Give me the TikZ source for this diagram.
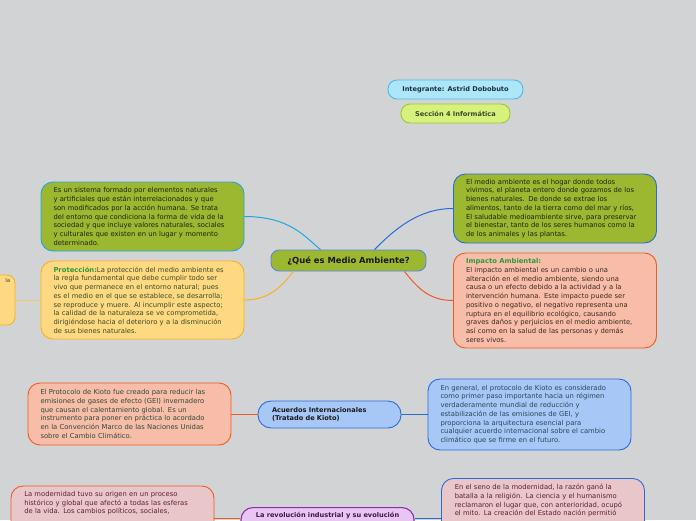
\documentclass[tikz,border=0pt]{standalone}
\usepackage{fontspec}
\setmainfont{DejaVu Sans}
\usetikzlibrary{calc}
\definecolor{bg}{HTML}{D2D3D5}
\definecolor{olivef}{HTML}{9CB730}
\definecolor{yellowf}{HTML}{FFD982}
\definecolor{salmonf}{HTML}{F8BDA8}
\definecolor{bluef}{HTML}{A7C8F6}
\definecolor{pinkf}{HTML}{E9C6CA}
\definecolor{lilacf}{HTML}{E9C5F4}
\definecolor{cyanf}{HTML}{AEE6F9}
\definecolor{limef}{HTML}{D8F07C}
\definecolor{cyanl}{HTML}{1EA7E1}
\definecolor{bluel}{HTML}{2A6CD6}
\definecolor{yellowl}{HTML}{F5B21E}
\definecolor{redl}{HTML}{F05A22}
\definecolor{purplel}{HTML}{8A2FA8}
\definecolor{limel}{HTML}{9CC834}
\definecolor{greent}{HTML}{2E9A3A}
\definecolor{t4}{HTML}{1E2418}
\definecolor{t5}{HTML}{3A4A26}
\definecolor{t8}{HTML}{3A2A22}
\definecolor{t9}{HTML}{2E4A3A}
\definecolor{t11}{HTML}{2A4658}
\definecolor{t12}{HTML}{5E1F3A}
\definecolor{t13}{HTML}{3A1848}
\definecolor{th}{HTML}{1C3040}
\begin{document}
\begin{tikzpicture}[x=1pt,y=1pt,
  box/.style={draw, line width=0.9pt, rounded corners=12pt, inner xsep=12.5pt, inner ysep=0pt,
    text width=178pt, align=left, font=\fontsize{6.8}{8.7}\selectfont},
  txt/.style={anchor=north west, inner sep=0pt, text width=178pt, align=left, font=\fontsize{6.8}{8.7}\selectfont},
  pill/.style={draw, line width=0.9pt, inner sep=0pt, align=left, font=\bfseries\fontsize{6.6}{8.7}\selectfont},
  conn/.style={line width=1pt},
]
\useasboundingbox[fill=bg] (0,0) rectangle (696,-520);

% header pills
\node[pill, fill=cyanf, draw=cyanl!80, rounded corners=9pt, minimum width=135pt, minimum height=19pt, text=th] (int) at (455.5,-89.5) {Integrante: Astrid Dobobuto};
\node[pill, fill=limef, draw=limel, rounded corners=9pt, minimum width=109pt, minimum height=19pt, text=t5] (sec) at (455.5,-113.5) {Sección 4 Informática};

% central
\node[draw=bluel!80, fill=olivef, line width=0.9pt, rounded corners=8pt, minimum width=155pt, minimum height=21pt, inner sep=0pt,
  font=\bfseries\fontsize{8.4}{10}\selectfont, text=black!90] (c) at (348.5,-260.5) {¿Qué es Medio Ambiente?};

% left top
\node[box, fill=olivef, draw=cyanl, minimum height=69pt, text=t4] (n4) at (142.5,-216.5) {Es un sistema formado por elementos naturales\\
y artificiales que están interrelacionados y que\\
son modificados por la acción humana. Se trata\\
del entorno que condiciona la forma de vida de la\\
sociedad y que incluye valores naturales, sociales\\
y culturales que existen en un lugar y momento\\
determinado.};

% proteccion
\node[box, fill=yellowf, draw=yellowl, minimum height=78pt, text=t5] (n5) at (142.5,-300) {\textbf{\color{greent}Protección:}La protección del medio ambiente es\\
la regla fundamental que debe cumplir todo ser\\
vivo que permanece en el entorno natural; pues\\
es el medio en el que se establece, se desarrolla;\\
se reproduce y muere. Al incumplir este aspecto;\\
la calidad de la naturaleza se ve comprometida,\\
dirigiéndose hacia el deterioro y a la disminución\\
de sus bienes naturales.};

% left partial
\node[draw=yellowl, fill=yellowf, line width=0.9pt, rounded corners=8pt, minimum width=120pt, minimum height=50pt, inner sep=0pt] (n6) at (-45,-300) {};
\node[anchor=north east, inner sep=0pt, font=\fontsize{5.5}{7}\selectfont, text=t5] (n6t) at ($(n6.north east)+(-5,-4)$) {la};

% right top
\node[box, fill=olivef, draw=bluel, minimum height=69pt, text=t4] (n7) at (555,-208.5) {El medio ambiente es el hogar donde todos\\
vivimos, el planeta entero donde gozamos de los\\
bienes naturales. De donde se extrae los\\
alimentos, tanto de la tierra como del mar y ríos,\\
El saludable medioambiente sirve, para preservar\\
el bienestar, tanto de los seres humanos como la\\
de los animales y las plantas.};

% impacto
\node[box, fill=salmonf, draw=redl, minimum height=95pt, text=t8] (n8) at (555,-300.5) {\textbf{\color{greent}Impacto Ambiental:}\\
El impacto ambiental es un cambio o una\\
alteración en el medio ambiente, siendo una\\
causa o un efecto debido a la actividad y a la\\
intervención humana. Este impacto puede ser\\
positivo o negativo, el negativo representa una\\
ruptura en el equilibrio ecológico, causando\\
graves daños y perjuicios en el medio ambiente,\\
así como en la salud de las personas y demás\\
seres vivos.};

% kioto
\node[box, fill=salmonf, draw=redl, minimum height=62pt, text=t9] (n9) at (129.5,-414) {El Protocolo de Kioto fue creado para reducir las\\
emisiones de gases de efecto (GEI) invernadero\\
que causan el calentamiento global. Es un\\
instrumento para poner en práctica lo acordado\\
en la Convención Marco de las Naciones Unidas\\
sobre el Cambio Climático.};

\node[pill, fill=bluef, draw=bluel, rounded corners=13pt, minimum width=143pt, minimum height=27pt, text width=115pt, text=black!90] (n10) at (329.5,-414.5) {Acuerdos Internacionales\\(Tratado de Kioto)};

\node[box, fill=bluef, draw=bluel, minimum height=71pt, text=t11] (n11) at (529.5,-414.5) {En general, el protocolo de Kioto es considerado\\
como primer paso importante hacia un régimen\\
verdaderamente mundial de reducción y\\
estabilización de las emisiones de GEI, y\\
proporciona la arquitectura esencial para\\
cualquier acuerdo internacional sobre el cambio\\
climático que se firme en el futuro.};

% bottom row
\node[box, fill=pinkf, draw=redl, minimum height=88pt] (n12) at (112.5,-530) {};
\node[txt, text=t12] (n12t) at ($(n12.north west)+(13.5,-5.5)$) {La modernidad tuvo su origen en un proceso\\
histórico y global que afectó a todas las esferas\\
de la vida. Los cambios políticos, sociales,};

\node[pill, fill=lilacf, draw=purplel, line width=1.1pt, rounded corners=12pt, minimum width=173pt, minimum height=27pt, anchor=north] (n13) at (327.5,-507) {};
\node[inner sep=0pt, font=\bfseries\fontsize{6.6}{8.7}\selectfont, text=t13, anchor=north] (n13t) at ($(n13.north)+(0,-5.5)$) {La revolución industrial y su evolución};

\node[box, fill=pinkf, draw=bluel, minimum height=88pt, anchor=north] (n14) at (543,-478) {};
\node[txt, text=t12] (n14t) at ($(n14.north west)+(13.5,-6)$) {En el seno de la modernidad, la razón ganó la\\
batalla a la religión. La ciencia y el humanismo\\
reclamaron el lugar que, con anterioridad, ocupó\\
el mito. La creación del Estado nación permitió};

% connectors
\draw[conn, cyanl] (n4.east) .. controls +(46,0) and +(-15,12) .. ($(c.north)+(-28,0)$);
\draw[conn, bluel] ($(c.north)+(26,0)$) .. controls +(20,20) and +(-35,0) .. (n7.west);
\draw[conn, yellowl] ($(c.south)+(-55,0)$) .. controls +(-12,-15) and +(25,0) .. (n5.east);
\draw[conn, redl] ($(c.south)+(56,0)$) .. controls +(12,-15) and +(-25,0) .. (n8.west);
\draw[conn, yellowl!70] (n5.west) -- (n6.east |- n5.west);
\draw[conn, redl] (n10.west) -- (n9.east |- n10.west);
\draw[conn, bluel] (n10.east) -- (n11.west |- n10.east);
\draw[conn, redl] ($(n13.west)+(0,3)$) -- ($(n12.east |- n13.west)+(0,3)$);
\draw[conn, bluel] ($(n13.east)+(0,3)$) -- ($(n14.west |- n13.east)+(0,3)$);
\end{tikzpicture}
\end{document}
